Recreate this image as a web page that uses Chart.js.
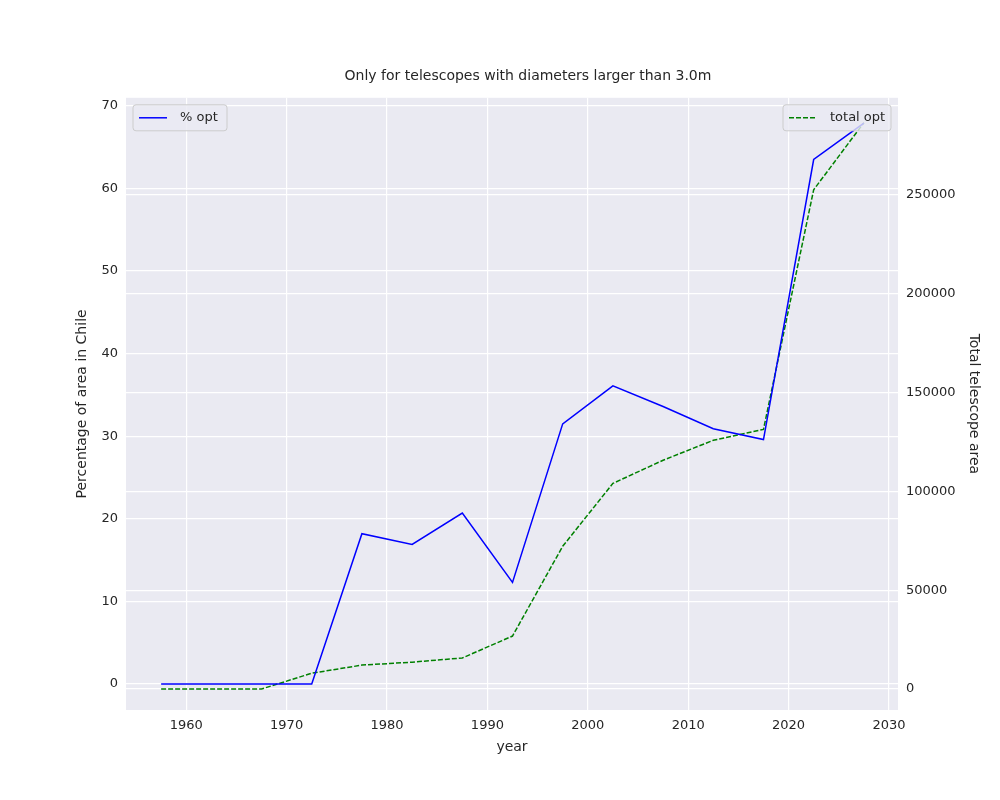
<!DOCTYPE html>
<html><head><meta charset="utf-8">
<script src="https://cdn.jsdelivr.net/npm/chart.js@4"></script>
<style>html,body{margin:0;background:#fff}#w{width:1000px;height:800px}</style>
</head><body><div id="w"><canvas id="c"></canvas></div>
<script>
const years = [1957.5,1962.5,1967.5,1972.5,1977.5,1982.5,1987.5,1992.5,1997.5,2002.5,2007.5,2012.5,2017.5,2022.5,2027.5];
const pctOpt = [0,0,0,0,18.2,16.9,20.7,12.3,31.5,36.1,33.6,30.9,29.6,63.5,67.9];
const totalOpt = [0,0,0,8000,12100,13600,15700,26800,72200,104000,115700,125800,131300,252500,286400];
const xTicks = [1960,1970,1980,1990,2000,2010,2020,2030];
const FONT = "'DejaVu Sans', sans-serif";
const TXT = '#262626';

const legendPlugin = {
  id:'legs',
  afterDraw(chart){
    const ctx = chart.ctx, a = chart.chartArea;
    ctx.save();
    ctx.font = `13px ${FONT}`;
    function box(x,y,w,label,color,dash){
      ctx.fillStyle='rgba(234,234,242,0.8)';
      ctx.strokeStyle='#cccccc';ctx.lineWidth=1;
      ctx.beginPath();ctx.roundRect(x,y,w,26,3);ctx.fill();ctx.stroke();
      ctx.strokeStyle=color;ctx.lineWidth=1.5;ctx.setLineDash(dash);
      ctx.beginPath();ctx.moveTo(x+6,y+13);ctx.lineTo(x+34,y+13);ctx.stroke();
      ctx.setLineDash([]);
      ctx.fillStyle=TXT;ctx.textBaseline='middle';ctx.fillText(label,x+47,y+13);
    }
    box(a.left+7,a.top+7,94,'% opt','#0000ff',[]);
    box(a.right-115,a.top+7,108,'total opt','#008000',[5,2]);
    ctx.restore();
  }
};
const bgPlugin = {id:'bg',beforeDraw(chart){const a=chart.chartArea,c=chart.ctx;c.save();c.fillStyle='#eaeaf2';c.fillRect(a.left,a.top,a.right-a.left,a.bottom-a.top);c.restore();}};

new Chart(document.getElementById('c'),{
  type:'line',
  data:{datasets:[
    {label:'% opt',data:years.map((x,i)=>({x,y:pctOpt[i]})),borderColor:'#0000ff',borderWidth:1.5,pointRadius:0,yAxisID:'y',tension:0},
    {label:'total opt',data:years.map((x,i)=>({x,y:totalOpt[i]})),borderColor:'#008000',borderDash:[5,2],borderWidth:1.5,pointRadius:0,yAxisID:'y1',tension:0}
  ]},
  options:{
    responsive:true,maintainAspectRatio:false,animation:false,
    layout:{padding:{top:20,right:14,bottom:40,left:70}},
    plugins:{legend:{display:false},tooltip:{enabled:false},
      title:{display:true,text:'Only for telescopes with diameters larger than 3.0m',color:TXT,font:{family:FONT,size:14,weight:'normal'},padding:{top:48,bottom:13}}},
    scales:{
      x:{type:'linear',min:1954.0,max:2030.9,
        afterBuildTicks(s){s.ticks=xTicks.map(v=>({value:v}));},
        grid:{color:'#ffffff',lineWidth:1.2,drawTicks:false},border:{display:false},
        ticks:{color:TXT,font:{family:FONT,size:13},padding:8,callback:v=>String(v)},
        title:{display:true,text:'year',color:TXT,font:{family:FONT,size:14},padding:{top:2}},
        afterFit(s){s.height=50;}},
      y:{position:'left',min:-3.14,max:70.97,
        afterBuildTicks(s){s.ticks=[0,10,20,30,40,50,60,70].map(v=>({value:v}));},
        grid:{color:'#ffffff',lineWidth:1.2,drawTicks:false},border:{display:false},
        ticks:{color:TXT,font:{family:FONT,size:13},padding:8},
        title:{display:true,text:'Percentage of area in Chile',color:TXT,font:{family:FONT,size:14}},
        afterFit(s){s.width=56;}},
      y1:{position:'right',min:-10600,max:299000,
        afterBuildTicks(s){s.ticks=[0,50000,100000,150000,200000,250000].map(v=>({value:v}));},
        grid:{color:'#ffffff',lineWidth:1.2,drawTicks:false},border:{display:false},
        ticks:{color:TXT,font:{family:FONT,size:13},padding:8,callback:v=>String(v)},
        title:{display:true,text:'Total telescope area',color:TXT,font:{family:FONT,size:14}},
        afterFit(s){s.width=88;}}
    }
  },
  plugins:[bgPlugin,legendPlugin]
});
</script></body></html>
